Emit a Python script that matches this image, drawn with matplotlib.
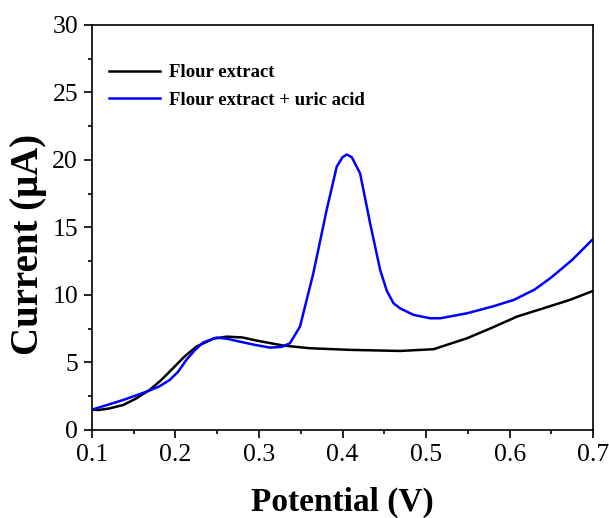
import matplotlib
matplotlib.use('Agg')
import matplotlib.pyplot as plt
from matplotlib.ticker import MultipleLocator

plt.rcParams['font.family'] = ['Liberation Serif', 'DejaVu Serif']

# potential (V) and current (uA)
pot_flour = [0.100, 0.108, 0.120, 0.1375, 0.152, 0.169, 0.183, 0.197, 0.211, 0.225,
             0.245, 0.261, 0.280, 0.297, 0.329, 0.361, 0.409, 0.469, 0.509, 0.549,
             0.580, 0.609, 0.640, 0.672, 0.700]
cur_flour = [1.50, 1.48, 1.58, 1.85, 2.30, 2.96, 3.70, 4.57, 5.45, 6.17,
             6.75, 6.91, 6.85, 6.62, 6.25, 6.05, 5.93, 5.85, 5.98, 6.79,
             7.60, 8.40, 9.00, 9.63, 10.30]

pot_uric = [0.100, 0.1375, 0.1655, 0.180, 0.193, 0.203, 0.213, 0.223, 0.233, 0.249,
            0.262, 0.277, 0.295, 0.313, 0.327, 0.337, 0.349, 0.365, 0.381, 0.393,
            0.400, 0.405, 0.411, 0.421, 0.433, 0.445, 0.453, 0.461, 0.469, 0.485,
            0.505, 0.517, 0.549, 0.580, 0.605, 0.630, 0.650, 0.675, 0.700]
cur_uric = [1.50, 2.22, 2.84, 3.20, 3.70, 4.30, 5.19, 5.90, 6.47, 6.84,
            6.75, 6.54, 6.30, 6.10, 6.15, 6.42, 7.65, 11.6, 16.3, 19.5,
            20.2, 20.4, 20.2, 19.0, 15.3, 11.85, 10.3, 9.38, 9.00, 8.52,
            8.27, 8.27, 8.64, 9.15, 9.63, 10.4, 11.3, 12.6, 14.15]

fig = plt.figure(figsize=(6.09, 5.18), dpi=100)
ax = fig.add_axes([0.151, 0.170, 0.823, 0.782])

ax.plot(pot_flour, cur_flour, color='black', lw=1.8, label='Flour extract')
ax.plot(pot_uric, cur_uric, color='#0000ff', lw=1.8, label='Flour extract + uric acid')

ax.set_xlim(0.1, 0.7)
ax.set_ylim(0, 30)
ax.xaxis.set_major_locator(MultipleLocator(0.1))
ax.xaxis.set_minor_locator(MultipleLocator(0.05))
ax.yaxis.set_major_locator(MultipleLocator(5))
ax.yaxis.set_minor_locator(MultipleLocator(2.5))
ax.tick_params(which='both', direction='out', width=1.2, top=False, right=False)
ax.tick_params(which='major', length=6, labelsize=18.5, pad=4)
ax.tick_params(which='minor', length=3)
for s in ax.spines.values():
    s.set_linewidth(1.2)

ax.set_xlabel('Potential (V)', fontsize=24, fontweight='bold', labelpad=15)
ax.set_ylabel('Current (\u03bcA)', fontsize=28, fontweight='bold')
ax.yaxis.set_label_coords(-0.09, 0.457)

ax.legend(loc='upper left', frameon=False, prop={'weight': 'bold', 'size': 13.5},
          handlelength=2.7, handletextpad=0.45, labelspacing=0.57,
          borderaxespad=0.0, bbox_to_anchor=(0.02, 0.922))

fig.savefig('out.png', dpi=100)
